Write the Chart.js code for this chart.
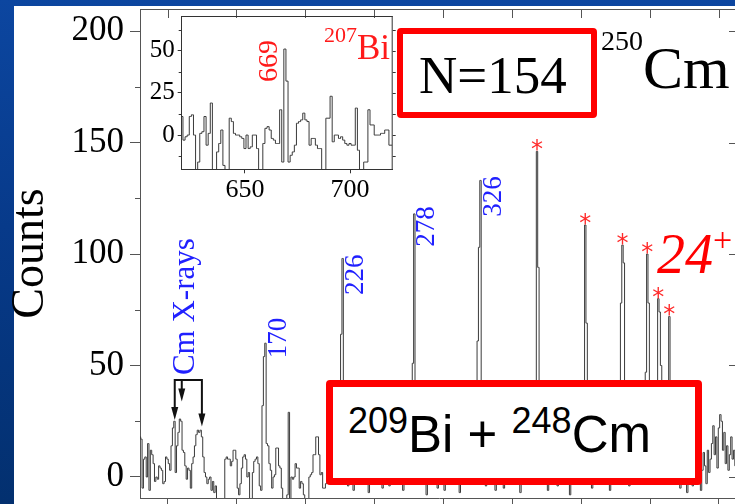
<!DOCTYPE html>
<html>
<head>
<meta charset="utf-8">
<script src="https://cdn.jsdelivr.net/npm/chart.js@4.4.0/dist/chart.umd.min.js"></script>
<style>
  html, body { margin: 0; padding: 0; width: 735px; height: 504px; overflow: hidden; }
  body { position: relative; background: linear-gradient(180deg, #0c46a0 0%, #073a8a 45%, #03306f 100%); }
  #sheet { position: absolute; left: 14px; top: 6px; width: 760px; height: 520px; background: #fff; }
  #main { position: absolute; left: 0; top: 0; }
  #inset { position: absolute; left: 130px; top: 10px; }
  .box { position: absolute; box-sizing: border-box; border: 6px solid #ff0000; border-radius: 4px; background: #fff; }
  .txt { position: absolute; line-height: 1; white-space: nowrap; }
  .serif { font-family: "Liberation Serif", serif; }
  .sans { font-family: "Liberation Sans", sans-serif; }
  .sup { position: relative; }
</style>
</head>
<body>
<div id="sheet"></div>
<canvas id="main" width="760" height="560"></canvas>
<canvas id="inset" width="270" height="195"></canvas>

<div class="box" style="left:397px; top:28px; width:200px; height:90px;"></div>
<div class="txt serif" style="left:419px; top:49px; font-size:53px;">N=154</div>
<div class="txt serif" style="left:601px; top:37.8px; font-size:60px;"><span class="sup" style="font-size:28px; top:-38px;">250</span>Cm</div>

<div class="box" style="left:326px; top:380px; width:376px; height:105px; border-width:7px;"></div>
<div class="txt sans" style="left:348px; top:408.5px; font-size:51px;"><span class="sup" style="font-size:36px; top:-18.4px;">209</span>Bi + <span class="sup" style="font-size:36px; top:-18.4px;">248</span>Cm</div>

<div class="txt serif" style="left:657px; top:226.4px; font-size:56px; color:#ff0000; font-style:italic;">24<span class="sup" style="font-size:34px; top:-22px; font-style:normal;">+</span></div>
<div class="txt serif" style="left:324px; top:30.2px; font-size:35px; color:#ff1a1a;"><span class="sup" style="font-size:22px; top:-17px;">207</span>Bi</div>

<script>
// main spectrum: 1 keV bins, first bin centred at mainStart
const mainStart = 80;
const mainCounts = [
  18, 17, -5, 8, 9, 0, 15, -6, 12, 10,
  6, -2, 0, -1, 5, 4, 3, -3, -2, 9,
  8, 6, 3, 14, 22, 25, 2, 14, 20, 26,
  25, 12, 11, 5, -1, 4, 3, -5, 6, 9,
  14, 19, 21, 20, 21, 18, 9, 2, 0, -3,
  -1, 0, -6, -2, -7, -4, -10, -10, -10, -10,
  -10, -10, 8, 9, 8, 8, 5, 7, 12, 12,
  8, -5, -8, -3, 4, 9, 10, 8, 0, 2,
  -10, -10, 2, 7, 8, 9, 6, -4, -6, 32,
  54, 60, 15, 14, 6, 3, -5, 0, 1, 13,
  13, 5, 4, -5, -10, -10, -10, -8, 29, -10,
  0, -1, 0, 6, 4, 4, -5, -2, -3, -8,
  -10, -10, -10, 0, 1, 2, 10, 10, 18, 18,
  10, 1, 2, -5, -5, -3, 4, 8, 11, 3,
  5, -2, 7, 12, 6, 9, 64, 98, 28, 8,
  3, -4, 6, 10, 2, -6, 4, 9, 13, 5,
  0, -3, 8, 6, 11, 2, -7, 5, 9, 4,
  12, 7, -2, 3, 10, 5, -5, 8, 14, 6,
  1, -4, 9, 11, 3, 7, -2, 5, 12, 8,
  4, -6, 6, 10, 15, 9, 12, 20, 51, 118,
  30, 9, 4, -3, 7, 11, 2, 6, -8, 5,
  9, 13, 4, -2, 8, 3, -5, 7, 10, 6,
  2, -6, 9, 12, 5, 1, 8, -3, 4, 11,
  7, 0, -7, 6, 10, 3, 9, 13, 5, -2,
  4, 8, 12, 15, 22, 61, 103, 133, 35, 10,
  6, -4, 5, 9, 2, 7, 11, 4, -6, 3,
  8, 12, 6, 0, -5, 9, 7, 3, 10, 14,
  5, -3, 8, 6, 11, 2, -7, 4, 9, 12,
  6, 1, 8, 13, 10, 15, 20, 25, 146, 94,
  30, 12, 5, -2, 8, 4, -6, 7, 10, 3,
  9, 11, 2, -4, 6, 8, 13, 5, 0, 7,
  10, 4, -8, 6, 12, 3, 9, 7, 14, 18,
  22, 10, 24, 113, 69, 25, 8, 3, -5, 6,
  9, 2, 11, 5, -3, 7, 10, 4, 8, 12,
  3, -6, 9, 6, 14, 10, 5, 20, 30, 78,
  104, 96, 28, 9, 4, -4, 8, 11, 6, 2,
  7, 12, 5, -2, 9, 15, 21, 47, 100, 78,
  22, 14, 9, 18, 25, 30, 80, 74, 50, 15,
  8, 12, 16, 24, 72, 20, 6, -3, 9, 5,
  11, 3, -5, 8, 12, 6, 2, -7, 4, 10,
  7, -4, 9, 13, 5, 1, 8, -6, 3, 11,
  5, -3, 12, 2, 8, 15, 23, 10, 18, 4,
  22, 28, 25, 12, 20, 6, 14, 3, 10, 18,
  8, 12, 5, 10, 7
];
const mainXTicks = [100, 150, 200, 250, 300, 350, 400, 450, 500];
const mainYTicks = [0, 50, 100, 150, 200];
const mainYMinor = [25, 75, 125, 175];

// inset: 620-720 keV region
const insetStart = 620;
const insetCounts = [
  11, -3, -1, 0, 11, 12, 0, -21, -16, 1,
  2, 11, -6, 1, 19, -21, -21, -10, -5, 3,
  -18, -21, -21, 10, 8, 1, 0, 0, -1, -2,
  -8, 0, -8, -7, 0, 0, -8, -21, -21, -5,
  4, 5, 3, -2, -3, -5, -5, 15, -16, 51,
  32, -16, -12, -10, -6, 7, 8, 9, 13, 9,
  8, -6, -2, -2, -6, -8, -8, -21, -21, 10,
  10, 23, -4, 0, 0, -2, -1, -3, -5, -6,
  -5, -6, -6, 16, -9, -21, -21, -16, -16, 15,
  6, 6, 0, 0, 0, 1, 1, 3, 3, -6,
  -6
];
const insetXTicks = [650, 700];
const insetYTicks = [0, 25, 50];
const insetYMinor = [-12.5, 12.5, 37.5, 62.5];

// peak labels
const blueLabels = ['170', '226', '278', '326'];
const bluePeaks = [171, 227, 279, 327];
const blueFrom = [53.2, 81.6, 103.3, 116.7];   // count where the text starts
const starPeaks = [368, 403, 430, 448, 456, 464];
const xrayArrows = [105.2, 110.3, 124.9];
const xrayTips = [25.6, 33.8, 22.6];
const insetPeak = 669;

const BLUE = '#2020ff';
const LINE = '#3a3a3a';
const AXIS = '#555';

function toPoints(start, counts) {
  return counts.map((c, i) => ({ x: start + i, y: c }));
}

// fixed axis box, no extra room for the end labels
function fixBox(w, h) {
  return s => {
    if (w != null) s.width = w;
    if (h != null) s.height = h;
    s.paddingTop = 0; s.paddingBottom = 0; s.paddingLeft = 0; s.paddingRight = 0;
  };
}

function vtext(ctx, txt, px, py, font, color) {
  ctx.save();
  ctx.translate(px, py);
  ctx.rotate(-Math.PI / 2);
  ctx.font = font;
  ctx.fillStyle = color;
  ctx.textAlign = 'left';
  ctx.textBaseline = 'middle';
  ctx.fillText(txt, 0, 0);
  ctx.restore();
}

const mainDecor = {
  id: 'mainDecor',
  afterDraw(chart) {
    const { ctx, chartArea: a, scales: { x, y } } = chart;
    ctx.save();
    ctx.strokeStyle = AXIS;
    ctx.lineWidth = 1;
    // top and right frame with inward ticks
    ctx.beginPath();
    ctx.moveTo(a.left, a.top + 0.5); ctx.lineTo(a.right, a.top + 0.5);
    ctx.moveTo(a.right - 0.5, a.top); ctx.lineTo(a.right - 0.5, a.bottom);
    mainXTicks.forEach(v => {
      const px = Math.round(x.getPixelForValue(v)) + 0.5;
      ctx.moveTo(px, a.top); ctx.lineTo(px, a.top + 9);
    });
    mainYTicks.forEach(v => {
      const py = Math.round(y.getPixelForValue(v)) + 0.5;
      ctx.moveTo(a.right, py); ctx.lineTo(a.right - 9, py);
    });
    // minor ticks on the left
    mainYMinor.forEach(v => {
      const py = Math.round(y.getPixelForValue(v)) + 0.5;
      ctx.moveTo(a.left, py); ctx.lineTo(a.left - 5, py);
    });
    ctx.stroke();

    // blue energy labels
    blueLabels.forEach((t, i) => {
      vtext(ctx, t, x.getPixelForValue(bluePeaks[i]) + 13, y.getPixelForValue(blueFrom[i]),
        '27px "Liberation Serif"', BLUE);
    });
    vtext(ctx, 'Cm X-rays', x.getPixelForValue(113.6), y.getPixelForValue(45.7),
      '31px "Liberation Serif"', BLUE);

    // asterisks over the band members
    ctx.font = '24px "DejaVu Sans"';
    ctx.fillStyle = '#ff2a2a';
    ctx.textAlign = 'center';
    ctx.textBaseline = 'alphabetic';
    const m = ctx.measureText('*');
    const asc = m.actualBoundingBoxAscent, desc = m.actualBoundingBoxDescent;
    starPeaks.forEach(e => {
      const top = y.getPixelForValue(mainCounts[e - mainStart]);
      const cy = top - 6;
      ctx.fillText('*', x.getPixelForValue(e), cy + (asc - desc) / 2);
    });

    // X-ray arrows
    const yb = Math.round(y.getPixelForValue(43.5));
    ctx.strokeStyle = '#111';
    ctx.fillStyle = '#111';
    ctx.lineWidth = 2;
    ctx.beginPath();
    ctx.moveTo(x.getPixelForValue(xrayArrows[0]) - 1, yb);
    ctx.lineTo(x.getPixelForValue(xrayArrows[2]) + 1, yb);
    xrayArrows.forEach((e, i) => {
      const px = x.getPixelForValue(e);
      const tip = y.getPixelForValue(xrayTips[i]);
      ctx.moveTo(px, yb); ctx.lineTo(px, tip - 12);
    });
    ctx.stroke();
    xrayArrows.forEach((e, i) => {
      const px = x.getPixelForValue(e);
      const tip = y.getPixelForValue(xrayTips[i]);
      ctx.beginPath();
      ctx.moveTo(px - 3.5, tip - 13); ctx.lineTo(px + 3.5, tip - 13); ctx.lineTo(px, tip);
      ctx.closePath(); ctx.fill();
    });
    ctx.restore();
  }
};

new Chart(document.getElementById('main'), {
  type: 'line',
  data: {
    datasets: [{
      data: toPoints(mainStart, mainCounts),
      stepped: 'middle',
      borderColor: LINE,
      borderWidth: 1,
      pointRadius: 0,
      fill: false
    }]
  },
  options: {
    responsive: false,
    animation: false,
    events: [],
    layout: { padding: { top: 9, right: 22, left: 0, bottom: 0 } },
    plugins: { legend: { display: false }, tooltip: { enabled: false } },
    scales: {
      x: {
        type: 'linear', min: 80, max: 513.8,
        afterFit: fixBox(null, 62),
        afterBuildTicks: s => { s.ticks = mainXTicks.map(v => ({ value: v })); },
        ticks: { display: false },
        grid: { drawOnChartArea: false, tickLength: 10, color: AXIS },
        border: { color: AXIS }
      },
      y: {
        min: -9.42, max: 209.87,
        afterFit: fixBox(140, null),
        afterBuildTicks: s => { s.ticks = mainYTicks.map(v => ({ value: v })); },
        ticks: { color: '#000', padding: 6, font: { family: 'Liberation Serif', size: 35 } },
        grid: { drawOnChartArea: false, tickLength: 10, color: AXIS },
        border: { color: AXIS },
        title: {
          display: true, text: 'Counts', color: '#000',
          font: { family: 'Liberation Serif', size: 46, lineHeight: 1 },
          padding: { top: 7.5, bottom: 0 }
        }
      }
    }
  },
  plugins: [mainDecor]
});

const insetDecor = {
  id: 'insetDecor',
  afterDraw(chart) {
    const { ctx, chartArea: a, scales: { x, y } } = chart;
    ctx.save();
    ctx.strokeStyle = '#333';
    ctx.lineWidth = 1;
    ctx.beginPath();
    ctx.moveTo(a.left, a.top + 0.5); ctx.lineTo(a.right, a.top + 0.5);
    ctx.moveTo(a.right - 0.5, a.top); ctx.lineTo(a.right - 0.5, a.bottom);
    insetYTicks.concat(insetYMinor).forEach(v => {
      const py = Math.round(y.getPixelForValue(v)) + 0.5;
      ctx.moveTo(a.right, py); ctx.lineTo(a.right + 3, py);
    });
    insetYMinor.forEach(v => {
      const py = Math.round(y.getPixelForValue(v)) + 0.5;
      ctx.moveTo(a.left, py); ctx.lineTo(a.left - 3, py);
    });
    ctx.stroke();
    vtext(ctx, String(insetPeak), x.getPixelForValue(insetPeak) - 15, y.getPixelForValue(31.4),
      '28px "Liberation Serif"', '#ff1a1a');
    ctx.restore();
  }
};

new Chart(document.getElementById('inset'), {
  type: 'line',
  data: {
    datasets: [{
      data: toPoints(insetStart, insetCounts),
      stepped: 'middle',
      borderColor: LINE,
      borderWidth: 1,
      pointRadius: 0,
      fill: false
    }]
  },
  options: {
    responsive: false,
    animation: false,
    events: [],
    layout: { padding: { top: 6, right: 7.3, left: 0, bottom: 0 } },
    plugins: { legend: { display: false }, tooltip: { enabled: false } },
    scales: {
      x: {
        type: 'linear', min: 619.9, max: 720.3,
        afterFit: fixBox(null, 35.7),
        afterBuildTicks: s => { s.ticks = insetXTicks.map(v => ({ value: v })); },
        ticks: { color: '#000', padding: 1, font: { family: 'Liberation Serif', size: 26 } },
        grid: { drawOnChartArea: false, tickLength: 4, color: '#333' },
        border: { color: '#333' }
      },
      y: {
        min: -20.3, max: 70.6,
        afterFit: fixBox(51.7, null),
        afterBuildTicks: s => { s.ticks = insetYTicks.map(v => ({ value: v })); },
        ticks: { color: '#000', padding: 3, font: { family: 'Liberation Serif', size: 25 } },
        grid: { drawOnChartArea: false, tickLength: 4, color: '#333' },
        border: { color: '#333' }
      }
    }
  },
  plugins: [insetDecor]
});
</script>
</body>
</html>
